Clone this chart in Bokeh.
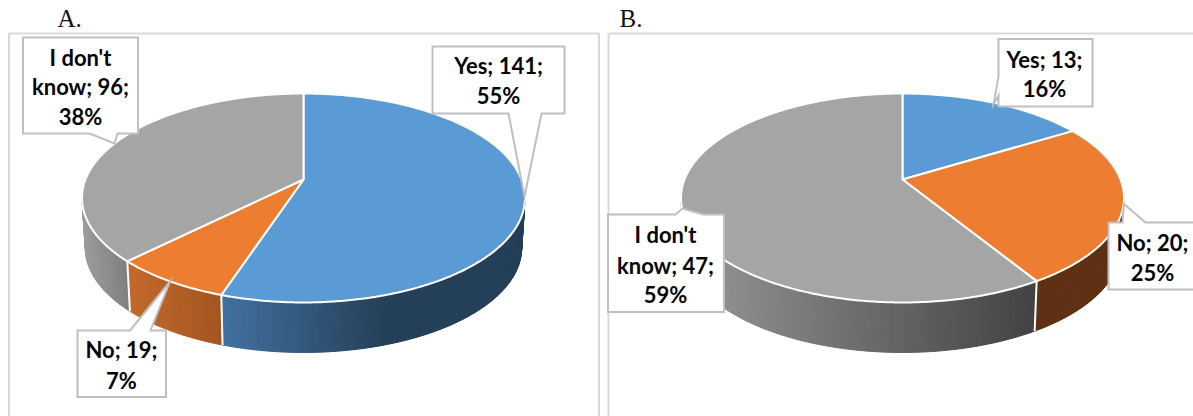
import numpy as np
from bokeh.core.properties import value
from bokeh.embed import file_html
from bokeh.models import Range1d
from bokeh.plotting import figure
from bokeh.resources import INLINE

# Survey answers for the two groups
categories = ["Yes", "No", "I don't know"]
counts_a = [141, 19, 96]
counts_b = [13, 20, 47]
percents_a = [55, 7, 38]
percents_b = [16, 25, 59]

top_colors = ["#5b9bd5", "#ed7d31", "#a5a5a5"]

# Rim shading: (x position, colour) stops for each slice of each pie
rim_a = [
    [(223, "#41709e"), (385, "#243f58"), (530, "#243f58")],
    [(128, "#c4692b"), (222, "#a1551f")],
    [(82, "#9c9c9c"), (128, "#7e7e7e")],
]
rim_b = [
    [(900, "#243f58"), (1130, "#243f58")],
    [(1036, "#5f3013"), (1130, "#5f3013")],
    [(690, "#959595"), (1035, "#424242")],
]

# Pie projection parameters: apex position and perspective of the tilted disc
APEX_Y = 179
SEMI_X, SEMI_Y, TILT = 218.0, 101.2, 0.177
DEPTH, RIM_SHRINK = 50, 0.985


def project(cx, theta):
    """Screen position of a point on the disc rim, theta clockwise from 12 o'clock."""
    u, v = np.sin(theta), np.cos(theta)
    w = 1 + TILT * v
    return cx + SEMI_X * u / w, APEX_Y - SEMI_Y * v / w


def blend(stops, x):
    xs = [s[0] for s in stops]
    rgb = [[int(s[1][i:i + 2], 16) for i in (1, 3, 5)] for s in stops]
    c = [np.interp(x, xs, [r[k] for r in rgb]) for k in range(3)]
    return "#%02x%02x%02x" % tuple(int(round(a)) for a in c)


def draw_pie(p, cx, counts, rim_stops):
    edges = 2 * np.pi * np.cumsum([0] + counts) / sum(counts)

    # side wall, built as thin strips so the shading can vary along x
    xs, ys, fills = [], [], []
    for i in range(len(counts)):
        n = max(2, int(np.degrees(edges[i + 1] - edges[i])))
        t = np.linspace(edges[i], edges[i + 1], n + 1)
        for a, b in zip(t[:-1], t[1:]):
            if np.cos((a + b) / 2) > 0.25:
                continue
            xa, ya = project(cx, a)
            xb, yb = project(cx, b)
            xs.append([xa, xb, cx + (xb - cx) * RIM_SHRINK, cx + (xa - cx) * RIM_SHRINK])
            ys.append([ya, yb, yb + DEPTH, ya + DEPTH])
            fills.append(blend(rim_stops[i], (xa + xb) / 2))
    p.patches(xs, ys, fill_color=fills, line_color=fills, line_width=1)

    # white seams where two slices meet on the wall
    for e in edges[1:-1]:
        if np.cos(e) < 0:
            x0, y0 = project(cx, e)
            p.line([x0, cx + (x0 - cx) * RIM_SHRINK], [y0, y0 + DEPTH],
                   line_color="white", line_width=2)

    # top faces
    for i in range(len(counts)):
        n = max(8, int(np.degrees(edges[i + 1] - edges[i])) * 2)
        t = np.linspace(edges[i], edges[i + 1], n + 1)
        x, y = project(cx, t)
        p.patch(np.r_[cx, x], np.r_[APEX_Y, y], fill_color=top_colors[i],
                line_color="white", line_width=2, line_join="round")


def draw_callout(p, outline, center_x, lines, line_ys):
    bx, by = zip(*outline)
    p.patch(bx, by, fill_color="white", line_color="#bfbfbf", line_width=2, line_join="miter")
    p.text([center_x] * len(lines), line_ys, text=lines, text_font=value("Lato"),
           text_font_style="bold", text_font_size="22px", text_color="#050505",
           text_align="center", text_baseline="middle")


p = figure(width=1193, height=416, output_backend="svg", toolbar_location=None,
           x_range=Range1d(0, 1193), y_range=Range1d(416, 0),
           min_border=0, outline_line_color=None, background_fill_color="white")
p.axis.visible = False
p.grid.visible = False

# chart frames, open at the page edges
p.line([8.5, 8.5, 598.5, 598.5], [416, 33, 33, 416], line_color="#d9d9d9", line_width=2)
p.line([608, 608, 1193], [416, 33, 33], line_color="#d9d9d9", line_width=2)

draw_pie(p, 303, counts_a, rim_a)
draw_pie(p, 902, counts_b, rim_b)

# panel letters
p.text([57, 619], [18, 18], text=["A.", "B."], text_font=value("Liberation Serif"),
       text_font_size="25px", text_color="#111111", text_baseline="alphabetic")

# callouts for the first pie
draw_callout(p, [(432, 46), (564, 46), (564, 113), (541, 113), (524, 196), (508, 113), (432, 113), (432, 46)],
             498, [f"{categories[0]}; {counts_a[0]};", f"{percents_a[0]}%"], [65, 95])
draw_callout(p, [(22.5, 37), (137.5, 37), (137.5, 133), (117, 133), (114, 143), (89, 133), (22.5, 133), (22.5, 37)],
             80, ["I don't", f"know; {counts_a[2]};", f"{percents_a[2]}%"], [57, 86, 116])
draw_callout(p, [(77, 330), (129.5, 330), (169.5, 281), (150, 330), (165.5, 330), (165.5, 396.5), (77, 396.5), (77, 330)],
             121, [f"{categories[1]}; {counts_a[1]};", f"{percents_a[1]}%"], [349, 380])

# callouts for the second pie
draw_callout(p, [(998, 38.5), (1092, 38.5), (1092, 106), (998, 106), (998, 95), (993, 104), (998, 76), (998, 38.5)],
             1044, [f"{categories[0]}; {counts_b[0]};", f"{percents_b[0]}%"], [59, 88])
draw_callout(p, [(1108, 222), (1122, 222), (1123.5, 203.5), (1145, 222), (1200, 222), (1200, 289), (1108, 289), (1108, 222)],
             1152, [f"{categories[1]}; {counts_b[1]};", f"{percents_b[1]}%"], [242, 272])
draw_callout(p, [(607.5, 214), (675, 214), (682, 208), (703, 214), (723.5, 214), (723.5, 311.5), (607.5, 311.5), (607.5, 214)],
             665, ["I don't", f"know; {counts_b[2]};", f"{percents_b[2]}%"], [234, 265, 294])

open("out.html", "w").write(file_html(p, INLINE))
